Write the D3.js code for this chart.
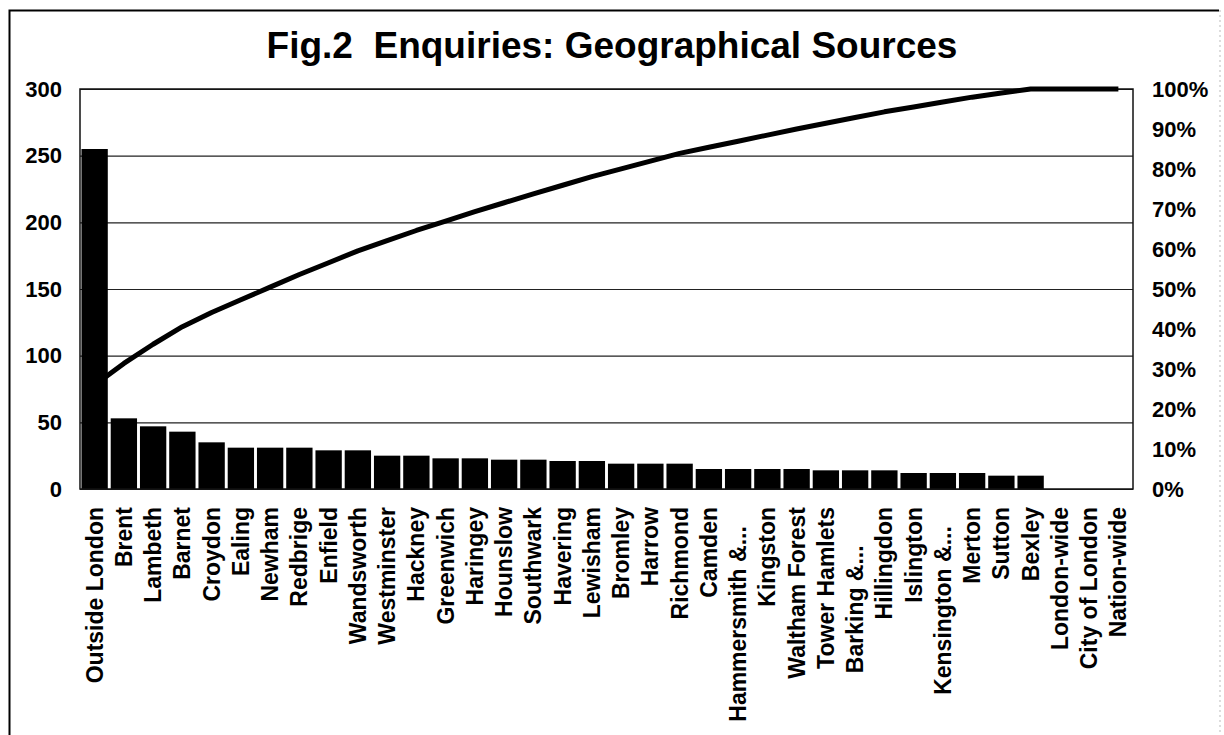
<!DOCTYPE html>
<html>
<head>
<meta charset="utf-8">
<script src="https://cdn.jsdelivr.net/npm/d3@7"></script>
<style>
  body { margin: 0; background: #fff; }
  svg text {
    font-family: "Liberation Sans", Arial, sans-serif;
    font-weight: bold;
    fill: #000;
  }
</style>
</head>
<body>
<div id="chart"></div>
<script>
// Boroughs, in the order shown on the chart (long names truncated as in the original)
const categories = [
  "Outside London", "Brent", "Lambeth", "Barnet", "Croydon", "Ealing", "Newham",
  "Redbrige", "Enfield", "Wandsworth", "Westminster", "Hackney", "Greenwich",
  "Haringey", "Hounslow", "Southwark", "Havering", "Lewisham", "Bromley", "Harrow",
  "Richmond", "Camden", "Hammersmith &...\u00a0\u00a0\u00a0", "Kingston", "Waltham Forest",
  "Tower Hamlets", "Barking &...\u00a0\u00a0\u00a0\u00a0\u00a0\u00a0", "Hillingdon", "Islington",
  "Kensington &...\u00a0\u00a0\u00a0", "Merton", "Sutton", "Bexley", "London-wide",
  "City of London", "Nation-wide"
];

// Number of enquiries per source
const enquiries = [
  255, 53, 47, 43, 35, 31, 31,
  31, 29, 29, 25, 25, 23,
  23, 22, 22, 21, 21, 19, 19,
  19, 15, 15, 15, 15,
  14, 14, 14, 12,
  12, 12, 10, 10, 0,
  0, 0
];

const countTicks = [0, 50, 100, 150, 200, 250, 300];
const percentTicks = [0, 0.1, 0.2, 0.3, 0.4, 0.5, 0.6, 0.7, 0.8, 0.9, 1];

const config = {
  containerWidth: 1224,
  containerHeight: 735,
  margin: { top: 89, right: 91, bottom: 246, left: 80 }
};

const width = config.containerWidth - config.margin.left - config.margin.right;
const height = config.containerHeight - config.margin.top - config.margin.bottom;

// Cumulative share for the pareto line
const total = d3.sum(enquiries);
const cumulative = Array.from(d3.cumsum(enquiries), v => v / total);

const data = categories.map((c, i) => ({ name: c, value: enquiries[i], share: cumulative[i] }));

const svg = d3.select("#chart")
  .append("svg")
  .attr("width", config.containerWidth)
  .attr("height", config.containerHeight);

// Outer frame of the figure
svg.append("path")
  .attr("d", `M9.5,${config.containerHeight}V10.5H1219`)
  .attr("fill", "none")
  .attr("stroke", "#000")
  .attr("stroke-width", 2);
svg.append("line")
  .attr("x1", 1220).attr("x2", 1220)
  .attr("y1", 10).attr("y2", config.containerHeight)
  .attr("stroke", "#bbb")
  .attr("stroke-dasharray", "2,3");

svg.append("text")
  .attr("x", 612)
  .attr("y", 58)
  .attr("text-anchor", "middle")
  .style("font-size", "37px")
  .style("white-space", "pre")
  .text("Fig.2  Enquiries: Geographical Sources");

const chart = svg.append("g")
  .attr("transform", `translate(${config.margin.left},${config.margin.top})`);

// Scales
const x = d3.scaleBand()
  .domain(categories)
  .range([0, width])
  .paddingInner(0.1)
  .paddingOuter(0.05);

const y = d3.scaleLinear().domain([0, 300]).range([height, 0]);
const yPct = d3.scaleLinear().domain([0, 1]).range([height, 0]);

// Left axis with gridlines
const yAxisG = chart.append("g")
  .call(d3.axisLeft(y).tickValues(countTicks).tickSize(-width).tickPadding(18));
yAxisG.select(".domain").remove();
yAxisG.selectAll(".tick line").attr("stroke", "#222").attr("stroke-width", 1.2);
yAxisG.selectAll(".tick text").style("font-size", "22px");

// Right axis (percent)
const yPctG = chart.append("g")
  .attr("transform", `translate(${width},0)`)
  .call(d3.axisRight(yPct).tickValues(percentTicks).tickFormat(d3.format(".0%")).tickSize(0).tickPadding(19));
yPctG.select(".domain").remove();
yPctG.selectAll(".tick text").style("font-size", "22px");

// Bars
chart.selectAll(".bar")
  .data(data)
  .join("rect")
  .attr("class", "bar")
  .attr("x", d => x(d.name))
  .attr("y", d => y(d.value))
  .attr("width", x.bandwidth())
  .attr("height", d => height - y(d.value))
  .attr("fill", "#000");

// Plot area border
chart.append("rect")
  .attr("width", width)
  .attr("height", height)
  .attr("fill", "none")
  .attr("stroke", "#111")
  .attr("stroke-width", 1.5);

// Cumulative line
const line = d3.line()
  .x(d => x(d.name) + x.bandwidth() / 2)
  .y(d => yPct(d.share));

chart.append("path")
  .datum(data)
  .attr("d", line)
  .attr("fill", "none")
  .attr("stroke", "#000")
  .attr("stroke-width", 5)
  .attr("stroke-linejoin", "round");

// Category labels, rotated
chart.selectAll(".x-label")
  .data(data)
  .join("text")
  .attr("class", "x-label")
  .attr("transform", d => `translate(${x(d.name) + x.bandwidth() / 2},${height + 18}) rotate(-90)`)
  .attr("text-anchor", "end")
  .attr("dy", "0.35em")
  .style("font-size", "23px")
  .style("white-space", "pre")
  .text(d => d.name);
</script>
</body>
</html>
